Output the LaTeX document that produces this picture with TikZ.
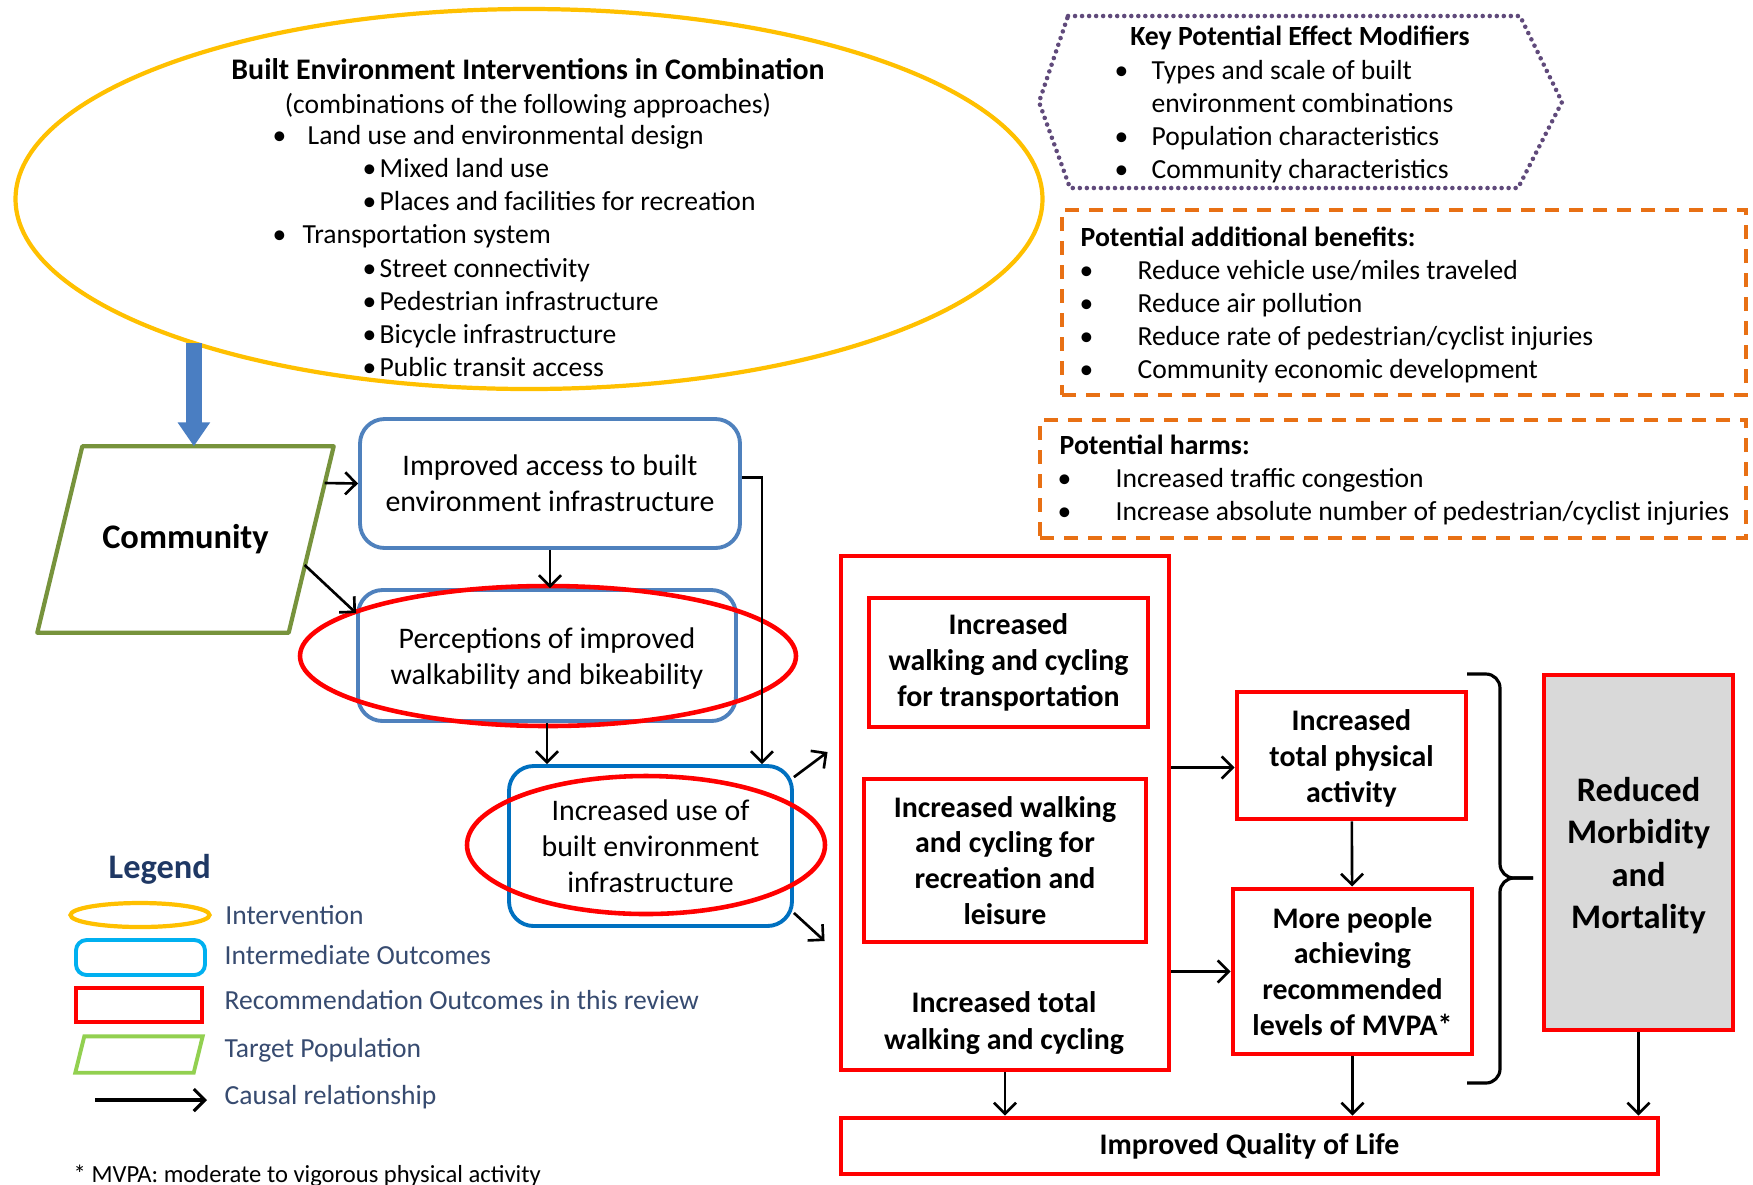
\documentclass[tikz,border=0pt]{standalone}
\usepackage{fontspec}
\setmainfont{Carlito}
\usetikzlibrary{positioning,shapes.geometric,arrows.meta}

\definecolor{intyellow}{RGB}{255,192,0}
\definecolor{midblue}{RGB}{79,129,189}
\definecolor{useblue}{RGB}{0,112,192}
\definecolor{popgreen}{RGB}{119,147,60}
\definecolor{modpurple}{RGB}{96,74,123}
\definecolor{extorange}{RGB}{232,112,20}
\definecolor{legblue}{RGB}{0,176,240}
\definecolor{leggreen}{RGB}{146,208,80}
\definecolor{legtext}{RGB}{55,75,112}
\definecolor{legtitle}{RGB}{31,56,100}
\definecolor{morbgrey}{RGB}{217,217,217}
\definecolor{fatarrow}{RGB}{74,126,194}

\newcommand{\lbul}[1]{\makebox[#1][l]{\textbullet}}

\tikzset{
  txt/.style={font=\fontsize{8.5}{10.2}\selectfont, inner sep=0pt},
  smalltxt/.style={inner sep=0pt, font=\fontsize{7.85}{9.4}\selectfont},
  bigtxt/.style={font=\fontsize{9.8}{12}\selectfont\bfseries},
  listtxt/.style={smalltxt, anchor=north west, align=left},
  midbox/.style={txt, draw=midblue, line width=1.1pt, rounded corners=7pt, align=center},
  recbox/.style={txt, draw=red, line width=1.4pt, align=center, font=\fontsize{8.5}{10.2}\selectfont\bfseries},
  ring/.style={draw=red, line width=1.3pt, ellipse, inner sep=0pt},
  extbox/.style={draw=extorange, line width=0.9pt, dash pattern=on 1.4mm off 1mm},
  legtxt/.style={smalltxt, anchor=west, text=legtext},
  causal/.style={-{Straight Barb[length=1.1mm,width=2.2mm]}, line width=0.75pt}
}

\begin{document}
\begin{tikzpicture}[x=0.1mm, y=-0.1mm]
\path[use as bounding box, fill=white] (0,0) rectangle (1753,1184);

% intervention
\node[ellipse, draw=intyellow, line width=1.2pt, minimum width=102.7mm, minimum height=38mm] (interv) at (529,199) {};
\node[txt, align=center, font=\fontsize{8.5}{9.6}\selectfont\bfseries] (intervtitle) at (528,88)
  {Built Environment Interventions in Combination\\ \fontsize{7.85}{9.6}\selectfont\mdseries(combinations of the following approaches)};
\node[listtxt] (intervlist) at (272,125)
  {\lbul{3.5mm}Land use and environmental design\\
   \hspace{9.0mm}\lbul{1.7mm}Mixed land use\\
   \hspace{9.0mm}\lbul{1.7mm}Places and facilities for recreation\\
   \lbul{3.0mm}Transportation system\\
   \hspace{9.0mm}\lbul{1.7mm}Street connectivity\\
   \hspace{9.0mm}\lbul{1.7mm}Pedestrian infrastructure\\
   \hspace{9.0mm}\lbul{1.7mm}Bicycle infrastructure\\
   \hspace{9.0mm}\lbul{1.7mm}Public transit access};

% effect modifiers
\draw[modpurple, line width=1.3pt, dash pattern=on 0pt off 2pt, line cap=round]
  (1068,16) -- (1520,16) -- (1562,102) -- (1518,188) -- (1070,188) -- (1039,102) -- cycle;
\node[smalltxt, font=\fontsize{7.9}{9.4}\selectfont\bfseries] (modtitle) at (1300,38) {Key Potential Effect Modifiers};
\node[listtxt] (modlist) at (1114,60)
  {\lbul{3.7mm}Types and scale of built\\
   \hspace{3.7mm}environment combinations\\
   \lbul{3.7mm}Population characteristics\\
   \lbul{3.7mm}Community characteristics};

% benefits and harms
\node[extbox, minimum width=68.4mm, minimum height=18.5mm] (benefits) at (1404,302.5) {};
\node[smalltxt, anchor=west, font=\fontsize{7.9}{9.4}\selectfont\bfseries] (bentitle) at (1080,237) {Potential additional benefits:};
\node[listtxt] (benlist) at (1079,260)
  {\lbul{5.8mm}Reduce vehicle use/miles traveled\\
   \lbul{5.8mm}Reduce air pollution\\
   \lbul{5.8mm}Reduce rate of pedestrian/cyclist injuries\\
   \lbul{5.8mm}Community economic development};
\node[extbox, minimum width=70.6mm, minimum height=11.8mm] (harms) at (1393,479) {};
\node[smalltxt, anchor=west, font=\fontsize{7.9}{9.4}\selectfont\bfseries] (harmtitle) at (1059,445) {Potential harms:};
\node[listtxt] (harmlist) at (1057,468)
  {\lbul{5.8mm}Increased traffic congestion\\
   \lbul{5.8mm}Increase absolute number of pedestrian/cyclist injuries};

% community and intermediate outcomes
\node[txt, bigtxt, minimum width=29.5mm, minimum height=18.5mm] (comm) at (185.5,539.5) {Community};
\draw[popgreen, line width=1.2pt, line join=round]
  ([xshift=4.5mm]comm.north west) -- (comm.north east) -- ([xshift=-4.5mm]comm.south east) -- (comm.south west) -- cycle;
\node[midbox, minimum width=38mm, minimum height=12.9mm] (access) at (550,483.5) {Improved access to built\\environment infrastructure};
\node[midbox, minimum width=37.8mm, minimum height=13.1mm] (percep) at (547,655.5) {\rule{0pt}{7.4pt}Perceptions of improved\\walkability and bikeability};
\node[midbox, draw=useblue, minimum width=28.3mm, minimum height=16mm] (usebe) at (650.5,846) {Increased use of\\built environment\\infrastructure};
\node[ring, minimum width=49.6mm, minimum height=14mm] (ring1) at (548,656) {};
\node[ring, minimum width=35.8mm, minimum height=13.8mm] (ring2) at (646,845) {};

\draw[fatarrow, line width=1.6mm, -{Triangle[length=2.4mm,width=3.1mm]}] ([xshift=0.5mm]interv.203) -- ([xshift=0.5mm]interv.203 |- comm.north);
\draw[causal] ([xshift=-0.9mm,yshift=5.65mm]comm.east) -- (access.west);
\draw[causal] ([xshift=-2.9mm,yshift=-2.55mm]comm.east) -- ([yshift=-2.5mm]percep.north west);
\draw[causal] (access.south) -- (access.south |- percep.north);
\draw[causal] (percep.south) -- (percep.south |- usebe.north);
\draw[causal] ([yshift=0.6mm]access.east) -| ([xshift=-3.2mm]usebe.north east);

% recommendation outcomes
\node[recbox, minimum width=32.8mm, minimum height=51.4mm] (walkcyc) at (1005,813) {};
\node[recbox, minimum width=27.9mm, minimum height=12.9mm] (transp) at (1008.5,662.5) {Increased\\walking and cycling\\for transportation};
\node[recbox, minimum width=28.2mm, minimum height=16.3mm] (leisure) at (1005,860.5) {Increased walking\\and cycling for\\recreation and\\leisure};
\node[txt, align=center, font=\fontsize{8.5}{10.6}\selectfont\bfseries] (totalwc) at (1004,1023) {Increased total\\walking and cycling};
\node[recbox, minimum width=22.9mm, minimum height=12.7mm] (tpa) at (1351.5,755.5) {\rule{0pt}{7.6pt}Increased\\total physical\\activity};
\node[recbox, minimum width=23.9mm, minimum height=16.5mm] (mvpa) at (1352.5,971.5) {More people\\achieving\\recommended\\levels of MVPA*};
\node[recbox, fill=morbgrey, minimum width=18.9mm, minimum height=35.5mm, bigtxt] (morb) at (1638.5,852.5) {\rule{0pt}{8.6pt}Reduced\\Morbidity\\and\\Mortality};
\node[recbox, minimum width=81.7mm, minimum height=5.6mm] (qol) at (1249.5,1146) {Improved Quality of Life};

\draw[causal] ([yshift=-1.3mm]usebe.north east) -- ([xshift=-1.1mm,yshift=6.1mm]walkcyc.west);
\draw[causal] ([yshift=1.5mm]usebe.south east) -- ([xshift=-1.4mm,yshift=-12.8mm]walkcyc.west);

\coordinate (tpain) at ([yshift=-1.2mm]tpa.west);
\draw[causal] (walkcyc.east |- tpain) -- (tpain);
\draw[causal] (walkcyc.east |- mvpa.west) -- (mvpa.west);
\draw[causal] (tpa) -- (mvpa);
\draw[causal] (walkcyc.south) -- (walkcyc.south |- qol.north);
\draw[causal] (mvpa.south) -- (mvpa.south |- qol.north);
\draw[causal] (morb.south) -- (morb.south |- qol.north);

% brace
\coordinate (bracetop) at (1467,674);
\coordinate (bracebot) at (1467,1083);
\coordinate (bracemid) at (1500,878);
\coordinate (bracetip) at (1533,878);
\draw[line width=0.9pt, rounded corners=4pt] (bracetop) -| (bracemid) -- (bracetip);
\draw[line width=0.9pt, rounded corners=4pt] (bracebot) -| (bracemid) -- (bracetip);

% legend
\node[txt, anchor=west, bigtxt, text=legtitle] (legtitle) at (108,869) {Legend};
\node[ellipse, draw=intyellow, line width=1.2pt, inner sep=0pt, minimum width=13.9mm, minimum height=2.4mm] (legint) at (140,915) {};
\node[legtxt, right=1.3mm of legint] (legintlab) {Intervention};
\node[draw=legblue, line width=1.1pt, rounded corners=3pt, minimum width=12.9mm, minimum height=3.5mm] (legmid) at (140.5,957.5) {};
\node[legtxt] (legmidlab) at (224,955) {Intermediate Outcomes};
\node[draw=red, line width=1.1pt, minimum width=12.6mm, minimum height=3.4mm] (legrec) at (139,1005) {};
\node[legtxt] (legreclab) at (224,1000) {Recommendation Outcomes in this review};
\node[minimum width=12.6mm, minimum height=3.5mm, inner sep=0pt] (legpop) at (139,1054.5) {};
\draw[leggreen, line width=1.1pt]
  ([xshift=0.9mm]legpop.north west) -- (legpop.north east) -- ([xshift=-0.9mm]legpop.south east) -- (legpop.south west) -- cycle;
\node[legtxt] (legpoplab) at (224,1050) {Target Population};
\coordinate (legarrs) at (95,1100);
\node[legtxt] (legcauslab) at (224,1097) {Causal relationship};
\draw[causal, line width=0.9pt] (legarrs) -- ([xshift=-1.7mm]legcauslab.west |- legarrs);

\node[inner sep=0pt, anchor=west, font=\fontsize{7}{8}\selectfont] (fnote) at (73,1176) {* MVPA: moderate to vigorous physical activity};
\end{tikzpicture}
\end{document}
